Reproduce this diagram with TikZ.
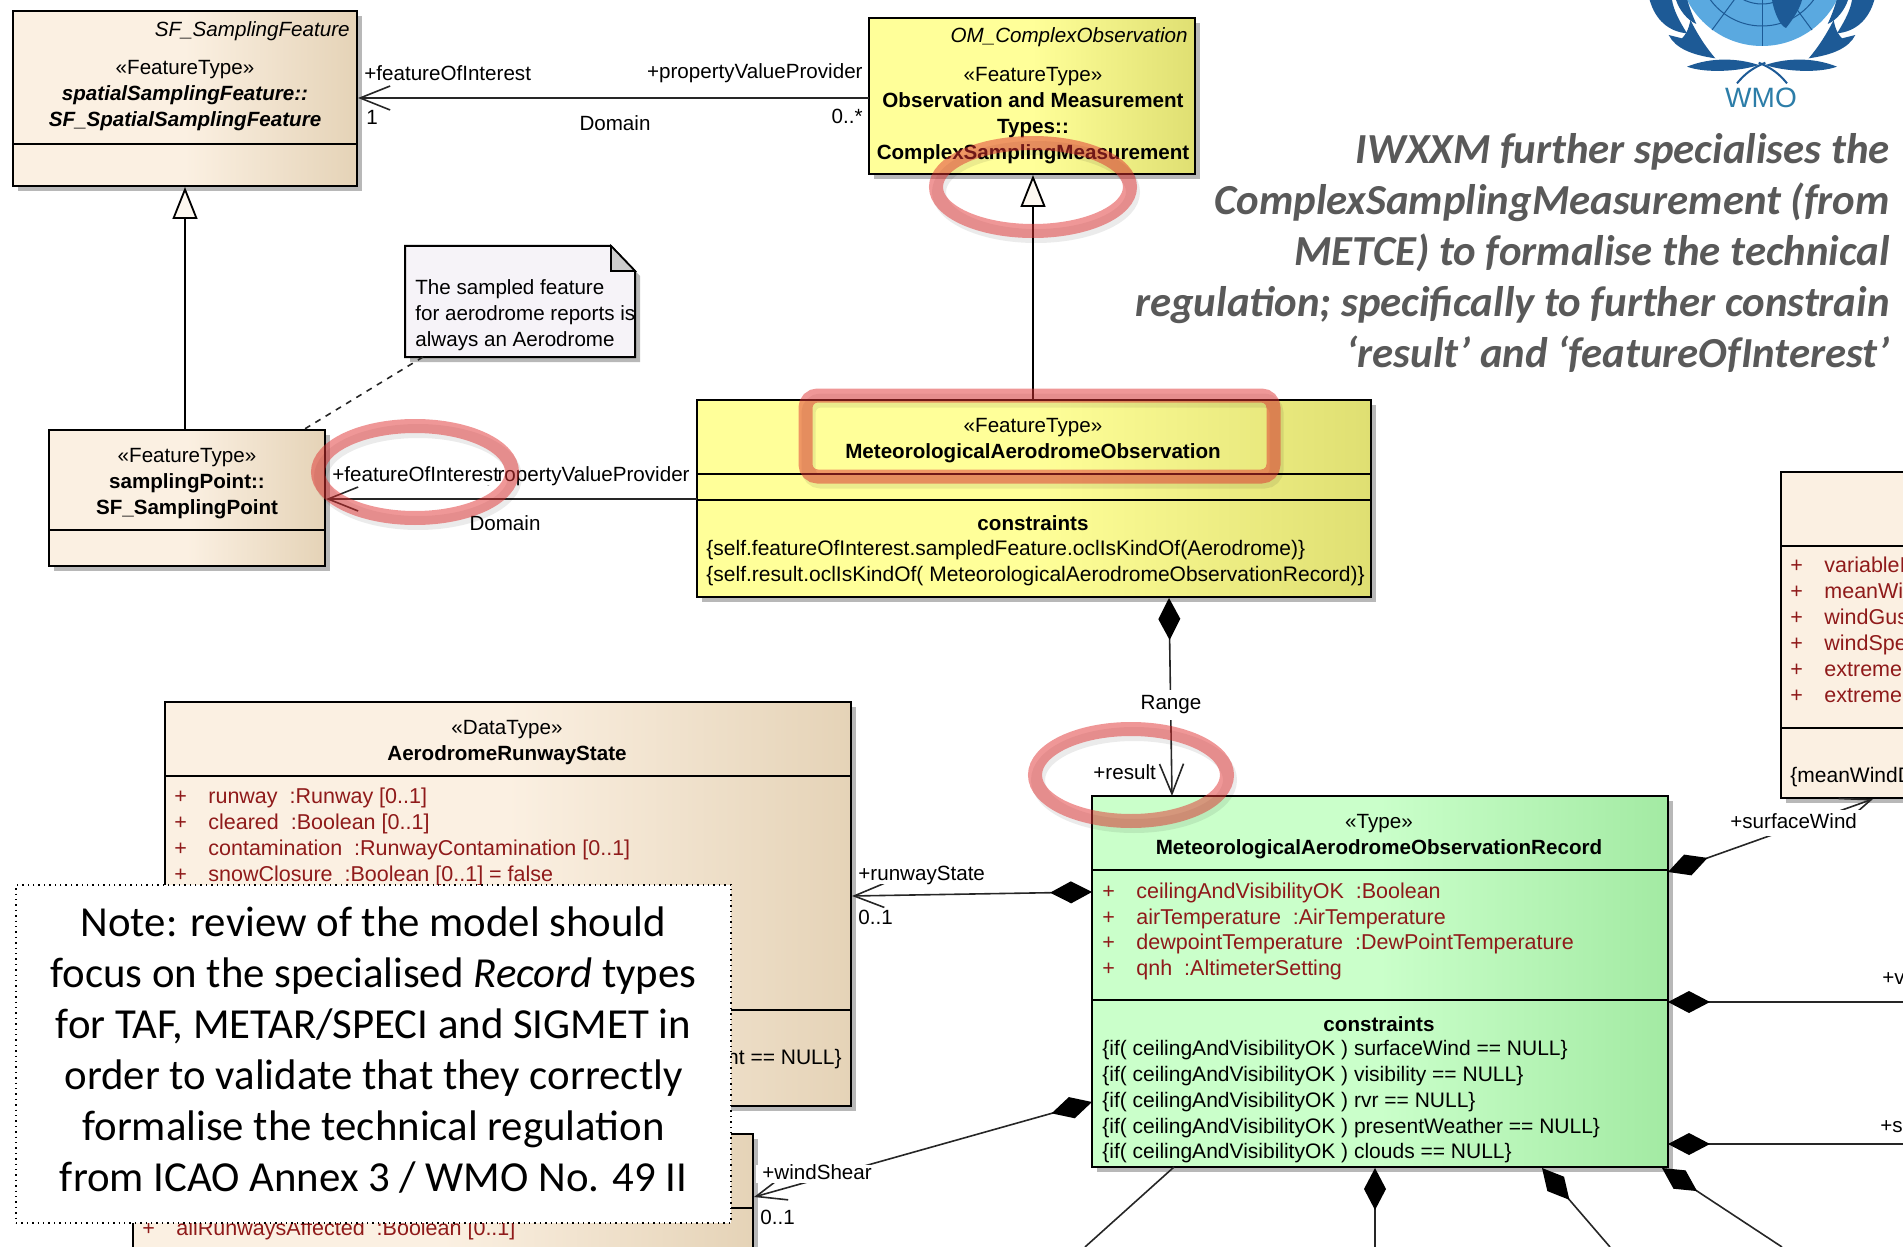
\documentclass[tikz,border=0pt]{standalone}
\usepackage{fontspec}
\setmainfont{Liberation Sans}
\newfontfamily\slidefont{Carlito}
\usetikzlibrary{arrows.meta, shadows}
\definecolor{peachlight}{HTML}{FBF0E2}
\definecolor{peachdark}{HTML}{E5D3B7}
\definecolor{yellowlight}{HTML}{FFFF99}
\definecolor{yellowdark}{HTML}{DFDF72}
\definecolor{greenlight}{HTML}{CAFFCA}
\definecolor{greendark}{HTML}{A3EAA3}
\definecolor{attrred}{HTML}{8F1A1A}
\definecolor{ringred}{HTML}{E03030}
\definecolor{notefill}{HTML}{F6F3F8}
\definecolor{slidegray}{HTML}{595959}
\definecolor{wmodark}{HTML}{1D5A96}
\definecolor{wmolight}{HTML}{5AA9E0}
\definecolor{wmotext}{HTML}{2C7DA8}

\begin{document}
\begin{tikzpicture}[x=0.5pt, y=-0.5pt]
    % Styles
    \tikzstyle{umlbox} = [draw=black, line width=1pt, inner sep=0pt, drop shadow={shadow xshift=2.5pt, shadow yshift=-2.5pt, fill=black!28, opacity=1}]
    \tikzstyle{peachbox} = [umlbox, left color=peachlight, right color=peachdark, middle color=peachlight]
    \tikzstyle{yellowbox} = [umlbox, left color=yellowlight, right color=yellowdark, middle color=yellowlight]
    \tikzstyle{greenbox} = [umlbox, left color=greenlight, right color=greendark, middle color=greenlight]
    \tikzstyle{umltext} = [inner sep=0pt, align=center, font=\fontsize{10.3}{13}\selectfont]
    \tikzstyle{umlleft} = [umltext, anchor=west, text height=7pt, text depth=2pt]
    \tikzstyle{constext} = [umlleft, font=\fontsize{10.5}{13}\selectfont]
    \tikzstyle{attrtext} = [umlleft, text=attrred, font=\fontsize{10.75}{13}\selectfont]
    \tikzstyle{endlabel} = [umlleft, fill=white]
    \tikzstyle{divider} = [draw=black, line width=1pt]
    \tikzstyle{assoc} = [draw=black!85, line width=0.8pt]
    \tikzstyle{barbend} = [assoc, -{Straight Barb[length=15pt, width=12pt, line width=0.8pt]}]
    \tikzstyle{compose} = [assoc, {Diamond[length=21pt, width=11pt, color=black]}-]
    \tikzstyle{composebarb} = [assoc, {Diamond[length=21pt, width=11pt, color=black]}-{Straight Barb[length=15pt, width=12pt, line width=0.8pt]}]
    \tikzstyle{general} = [draw=black, line width=0.9pt, -{Triangle[open, length=16pt, width=12.5pt, fill=peachlight!50!white, line width=0.9pt]}]
    \tikzstyle{ring} = [draw=ringred, line width=7pt, opacity=0.5]
    \tikzstyle{ringshadow} = [draw=black, line width=7pt, opacity=0.08]
    \tikzstyle{slidetext} = [inner sep=0pt, font=\slidefont\fontsize{21.4}{25.5}\selectfont]

    \useasboundingbox (0,0) rectangle (1903,1247);
    \clip (0,0) rectangle (1903,1247);

    % WMO logo
    \fill[wmolight] (1762,-38) circle [radius=84];
    \draw[wmodark, line width=0.5pt] (1762,-38) circle [radius=42];
    \draw[wmodark, line width=0.5pt] (1762,-38) circle [radius=64];
    \draw[wmodark, line width=0.5pt] (1762,-38) -- (1762,46);
    \draw[wmodark, line width=0.5pt] (1762,-38) -- (1712,30);
    \draw[wmodark, line width=0.5pt] (1762,-38) -- (1812,30);
    \fill[wmodark] (1772,0) .. controls (1774,12) and (1780,26) .. (1786,28) .. controls (1794,18) and (1800,8) .. (1802,0) -- cycle;
    \foreach \s in {1,-1} {
        \begin{scope}[shift={(1762,0)}, xscale=\s/3, yscale=1/3]
            \fill[wmodark] (-337,0) .. controls (-320,60) and (-280,95) .. (-225,100) .. controls (-250,60) and (-265,30) .. (-270,0) -- cycle;
            \fill[wmodark] (-258,0) -- (-224,0) .. controls (-217,25) and (-207,50) .. (-197,72) .. controls (-225,60) and (-248,30) .. cycle;
            \fill[wmodark] (-280,105) .. controls (-260,145) and (-210,165) .. (-140,175) .. controls (-170,140) and (-195,100) .. (-215,60) .. controls (-220,90) and (-230,105) .. (-240,115) -- cycle;
            \fill[wmodark] (-225,200) .. controls (-150,170) and (-70,175) .. (-10,195) .. controls (-70,215) and (-170,220) .. cycle;
            \draw[wmodark, line width=1pt] (-75,250) .. controls (-50,220) and (-30,205) .. (10,188);
        \end{scope}
    }
    \node[font=\fontsize{14}{16}\selectfont, text=wmotext, inner sep=0pt] (wmo) at (1761,98) {WMO};

    % Boxes
    \node[peachbox, minimum width=172pt, minimum height=87.5pt] (sfbox) at (185,98.5) {};
    \node[yellowbox, minimum width=163pt, minimum height=78pt] (ombox) at (1032,96) {};
    \node[peachbox, minimum width=138pt, minimum height=68pt] (spbox) at (187,498) {};
    \node[yellowbox, minimum width=337pt, minimum height=98.5pt] (aerobox) at (1034,498.5) {};
    \node[peachbox, minimum width=343pt, minimum height=202pt] (runwaybox) at (508,904) {};
    \node[peachbox, minimum width=310pt, minimum height=140pt] (shearbox) at (443,1274) {};
    \node[greenbox, minimum width=287.75pt, minimum height=185.5pt] (recbox) at (1379.75,981.5) {};
    \node[umlbox, fill=peachlight, minimum width=300pt, minimum height=163pt] (windbox) at (2081,635) {};

    % Dividers
    \draw[divider] (sfbox.west |- 0,144) -- (sfbox.east |- 0,144);
    \draw[divider] (spbox.west |- 0,530) -- (spbox.east |- 0,530);
    \draw[divider] (aerobox.west |- 0,474) -- (aerobox.east |- 0,474);
    \draw[divider] (aerobox.west |- 0,500) -- (aerobox.east |- 0,500);
    \draw[divider] (runwaybox.west |- 0,776) -- (runwaybox.east |- 0,776);
    \draw[divider] (runwaybox.west |- 0,1010) -- (runwaybox.east |- 0,1010);
    \draw[divider] (shearbox.west |- 0,1208) -- (shearbox.east |- 0,1208);
    \draw[divider] (recbox.west |- 0,870) -- (recbox.east |- 0,870);
    \draw[divider] (recbox.west |- 0,1000) -- (recbox.east |- 0,1000);
    \draw[divider] (windbox.west |- 0,546) -- (windbox.east |- 0,546);
    \draw[divider] (windbox.west |- 0,728) -- (windbox.east |- 0,728);

    % Note on the sampled feature
    \fill[black!28] (616,251) -- (640,276) -- (640,362) -- (410,362) -- (410,251) -- cycle;
    \draw[draw=black, line width=1pt, fill=notefill] (405,246) -- (611,246) -- (635,271) -- (635,357) -- (405,357) -- cycle;
    \draw[draw=black, line width=0.8pt, fill=black!20] (611,246) -- (611,271) -- (635,271) -- cycle;
    \node[umltext, align=left, anchor=west] (samplednote) at (415,315.5) {The sampled feature\\for aerodrome reports is\\always an Aerodrome};
    \coordinate (noteend) at (423,357);
    \coordinate (spnoteend) at (303,430);

    % Generalisations
    \coordinate (spup) at (185,430);
    \coordinate (sfdown) at (185,187);
    \coordinate (aeroup) at (1033,400);
    \coordinate (omdown) at (1033,175);
    \draw[general] (spup) -- (sfdown);
    \draw[general] (aeroup) -- (omdown);
    \draw[draw=black!85, line width=0.8pt, dash pattern=on 3pt off 3pt] (noteend) -- (spnoteend);

    % Associations
    \coordinate (omleft) at (869,98);
    \coordinate (sfright) at (358,98);
    \coordinate (aeroleft) at (697,499);
    \coordinate (spright) at (326,499);
    \coordinate (aerodown) at (1169,598);
    \coordinate (recup) at (1172,796);
    \coordinate (recw1) at (1092,892);
    \coordinate (runwayright) at (852,896);
    \coordinate (recw2) at (1092,1102);
    \coordinate (shearright) at (754,1197);
    \coordinate (rece1) at (1668,872);
    \coordinate (windbottom) at (1873,799);
    \coordinate (rece2) at (1668,1002);
    \coordinate (rightedge1) at (1903,1002);
    \coordinate (rece3) at (1668,1144);
    \coordinate (rightedge2) at (1903,1144);
    \coordinate (bottom1) at (1085,1247);
    \coordinate (recs1) at (1174,1167);
    \coordinate (recs2) at (1375,1168);
    \coordinate (bottom2) at (1375,1247);
    \coordinate (recs3) at (1542,1168);
    \coordinate (bottom3) at (1610,1247);
    \coordinate (recs4) at (1662,1168);
    \coordinate (bottom4) at (1782,1247);
    \draw[barbend] (omleft) -- (sfright);
    \draw[barbend] (aeroleft) -- (spright);
    \draw[composebarb] (aerodown) -- (recup);
    \draw[composebarb] (recw1) -- (runwayright);
    \draw[composebarb] (recw2) -- (shearright);
    \draw[composebarb] (rece1) -- (windbottom);
    \draw[compose] (rece2) -- (rightedge1);
    \draw[compose] (rece3) -- (rightedge2);
    \draw[assoc] (recs1) -- (bottom1);
    \draw[compose] (recs2) -- (bottom2);
    \draw[compose] (recs3) -- (bottom3);
    \draw[compose] (recs4) -- (bottom4);

    % Connector labels
    \node[endlabel] (foi1) at (364,76) {+featureOfInterest};
    \node[endlabel] (one1) at (366,120) {1};
    \node[umltext] (domain1) at (615,123) {Domain};
    \node[umlleft, anchor=east] (pvp1) at (863,74) {+propertyValueProvider};
    \node[umlleft, anchor=east] (many1) at (863,119) {0..*};
    \node[umlleft, anchor=east] (pvp2) at (690,476) {+propertyValueProvider};
    \node[endlabel] (foi2) at (332,476) {+featureOfInterest};
    \node[umltext] (domain2) at (505,523) {Domain};
    \node[umltext, fill=white, inner ysep=3pt] (range) at (1171,705) {Range};
    \node[umlleft] (resultlabel) at (1093,774) {+result};
    \node[endlabel] (runwaylabel) at (858,875) {+runwayState};
    \node[endlabel] (runwaymult) at (858,919) {0..1};
    \node[endlabel, inner xsep=3pt] (shearlabel) at (756,1174) {+windShear};
    \node[endlabel] (shearmult) at (760,1219) {0..1};
    \node[endlabel, inner xsep=3pt, inner ysep=2pt] (windlabel) at (1724,823) {+surfaceWind};
    \node[umlleft] (vislabel) at (1882,979) {+v};
    \node[umlleft] (selabel) at (1880,1127) {+se};

    % Box headers
    \node[umltext, anchor=east] (sfabstract) at (350,31) {\textit{SF\_SamplingFeature}};
    \node[umltext] (sfname) at (185,95.5) {«FeatureType»\\\textbf{\textit{spatialSamplingFeature::}}\\\textbf{\textit{SF\_SpatialSamplingFeature}}};
    \node[umltext, anchor=east] (omabstract) at (1188,37) {\textit{OM\_ComplexObservation}};
    \node[umltext] (omname) at (1033,115.5) {«FeatureType»\\\textbf{Observation and Measurement}\\\textbf{Types::}\\\textbf{ComplexSamplingMeasurement}};
    \node[umltext] (spname) at (187,483.5) {«FeatureType»\\\textbf{samplingPoint::}\\\textbf{SF\_SamplingPoint}};
    \node[umltext] (aeroname) at (1033,440.5) {«FeatureType»\\\textbf{MeteorologicalAerodromeObservation}};
    \node[umltext] (aerocons) at (1033,523) {\textbf{constraints}};
    \node[constext] (aerocons1) at (706,550) {\{self.featureOfInterest.sampledFeature.oclIsKindOf(Aerodrome)\}};
    \node[constext] (aerocons2) at (706,576) {\{self.result.oclIsKindOf( MeteorologicalAerodromeObservationRecord)\}};
    \node[umltext] (runwayname) at (507,742.5) {«DataType»\\\textbf{AerodromeRunwayState}};
    \node[umltext] (recname) at (1379,837) {«Type»\\\textbf{MeteorologicalAerodromeObservationRecord}};
    \node[umltext] (reccons) at (1379,1024) {\textbf{constraints}};

    % Attributes
    \foreach \ypos/\attrname in {798/{runway\ \ :Runway [0..1]}, 824/{cleared\ \ :Boolean [0..1]}, 850/{contamination\ \ :RunwayContamination [0..1]}, 876/{snowClosure\ \ :Boolean [0..1] = false}} {
        \node[attrtext] (plus-\ypos) at (174,\ypos) {+};
        \node[attrtext] (attr-\ypos) at (208,\ypos) {\attrname};
    }
    \node[constext, anchor=east] (runwaycons) at (842,1059) {nt == NULL\}};
    \node[attrtext] (plus-shear) at (142,1230) {+};
    \node[attrtext] (attr-shear) at (176,1230) {allRunwaysAffected\ \ :Boolean [0..1]};
    \foreach \ypos/\attrname in {893/{ceilingAndVisibilityOK\ \ :Boolean}, 919/{airTemperature\ \ :AirTemperature}, 944/{dewpointTemperature\ \ :DewPointTemperature}, 970/{qnh\ \ :AltimeterSetting}} {
        \node[attrtext] (plus-\ypos) at (1102,\ypos) {+};
        \node[attrtext] (attr-\ypos) at (1136,\ypos) {\attrname};
    }
    \foreach \ypos/\attrname in {1050/surfaceWind, 1076/visibility, 1102/rvr, 1128/presentWeather, 1153/clouds} {
        \node[constext] (cons-\ypos) at (1102,\ypos) {\{if( ceilingAndVisibilityOK ) \attrname{} == NULL\}};
    }
    \foreach \ypos/\attrname in {567/variableI, 593/meanWi, 619/windGus, 645/windSpe, 671/extreme(, 697/extreme(} {
        \node[attrtext] (plus-\ypos) at (1790,\ypos) {+};
        \node[attrtext] (attr-\ypos) at (1824,\ypos) {\attrname};
    }
    \node[constext] (windcons) at (1790,777) {\{meanWindD};

    % Highlights
    \draw[ringshadow] (1036,192) ellipse [x radius=97, y radius=44];
    \draw[ring] (1033,187) ellipse [x radius=97, y radius=44];
    \draw[ringshadow] (418,477) ellipse [x radius=97, y radius=46];
    \draw[ring] (415,472) ellipse [x radius=97, y radius=46];
    \draw[ringshadow] (1134,780) ellipse [x radius=96, y radius=46];
    \draw[ring] (1131,775) ellipse [x radius=96, y radius=46];
    \draw[ringshadow, rounded corners=6pt] (808.5,400.5) rectangle (1276.5,481.5);
    \draw[ring, rounded corners=6pt] (805.5,395.5) rectangle (1273.5,476.5);

    % Slide text
    \node[draw=black, dotted, line width=0.7pt, fill=white, minimum width=357.5pt, minimum height=169pt, inner sep=0pt] (reviewbox) at (373.5,1054) {};
    \node[slidetext, align=center] (reviewtext) at (373.5,1050) {Note: review of the model should\\focus on the specialised \textit{Record} types\\for TAF, METAR/SPECI and SIGMET in\\order to validate that they correctly\\formalise the technical regulation\\from ICAO Annex 3 / WMO No. 49 II};
    \node[slidetext, align=right, anchor=east, text=slidegray] (iwxxmtext) at (1890,253) {\textbf{\textit{IWXXM further specialises the}}\\\textbf{\textit{ComplexSamplingMeasurement (from}}\\\textbf{\textit{METCE) to formalise the technical}}\\\textbf{\textit{regulation; specifically to further constrain}}\\\textbf{\textit{‘result’ and ‘featureOfInterest’}}};
\end{tikzpicture}
\end{document}
